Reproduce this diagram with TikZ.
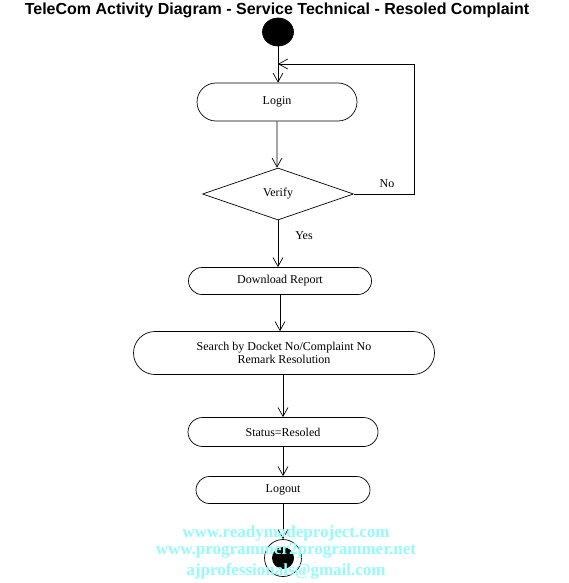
\documentclass[tikz,border=0pt]{standalone}
\usepackage{fontspec}
\setmainfont{Liberation Serif}
\newfontfamily\titlefont{Liberation Sans}
\usetikzlibrary{shapes.misc,shapes.geometric,arrows.meta}
\definecolor{wmcyan}{RGB}{150,250,250}
\begin{document}
\begin{tikzpicture}
[x=1pt,y=-1pt,line width=0.7pt,
 lbl/.style={font=\fontsize{12}{13}\selectfont},
 act/.style={draw,rounded rectangle,minimum height=#1,inner sep=0pt,lbl},
 act/.default=27pt,
 flow/.style={-{Straight Barb[length=9pt,width=10pt]}},
 wmark/.style={text=wmcyan,font=\fontsize{17}{19}\selectfont\bfseries}]
\useasboundingbox (0,0) rectangle (568,583);
\node [font=\titlefont\fontsize{16}{18}\selectfont\bfseries] (title) at (277,10) {TeleCom Activity Diagram - Service Technical - Resoled Complaint};
% start
\node [draw,fill=black,ellipse,minimum width=31pt,minimum height=28pt,inner sep=0pt] (start) at (278,32) {};
\node [act=38pt,minimum width=160pt] (login) at (277,102) {Login};
\node [draw,diamond,aspect=2.9,minimum width=151pt,minimum height=52pt,inner sep=0pt,lbl] (verify) at (278,194) {Verify};
\node [act,minimum width=183pt] (download) at (280,281) {Download Report};
\node [act=43pt,minimum width=301pt,align=center] (search) at (284,353) {Search by Docket No/Complaint No\\Remark Resolution};
\node [act=29pt,minimum width=190pt] (status) at (283,432) {Status=Resoled};
\node [act,minimum width=174pt] (logout) at (283,490) {Logout};
% end
\node [draw,circle,minimum size=37pt,inner sep=0pt] (finish) at (283,558) {};
\node [fill=black,circle,minimum size=22pt,inner sep=0pt] (finishdot) at (finish) {};
\coordinate (noturn) at (414,64);
\draw [flow] (start) -- (start |- login.north);
\draw [flow] (login) -- (login |- verify.north);
\draw [flow] (verify.south) -- (verify.south |- download.north);
\draw [flow] (download.south) -- (download.south |- search.north);
\draw [flow] (search.south -| status) -- (status.north);
\draw [flow] (status.south) -- (status.south |- logout.north);
\draw [flow] (logout.south) -- (finish.north);
\draw [flow] (verify.east) -| (noturn) -- (noturn -| start);
\node [lbl] (nolabel) at (387,184) {No};
\node [lbl] (yeslabel) at (304,236) {Yes};
% watermark
\node [wmark] (wm1) at (286,533) {www.readymadeproject.com};
\node [wmark] (wm2) at (286,551) {www.programmer2programmer.net};
\node [wmark] (wm3) at (286,571) {ajprofessionals@gmail.com};
\end{tikzpicture}
\end{document}
